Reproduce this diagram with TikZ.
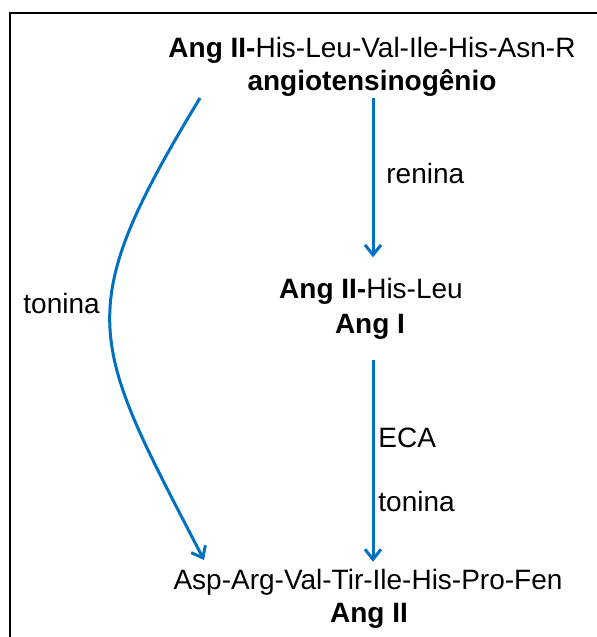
\documentclass[tikz,border=0pt]{standalone}
\usepackage{fontspec}
\setmainfont{Liberation Sans}
\usetikzlibrary{arrows.meta}
\definecolor{arrowblue}{HTML}{0070C0}
\begin{document}
\begin{tikzpicture}[x=1pt,y=1pt,
  txt/.style={inner sep=0pt, anchor=base, font=\fontsize{14}{16}\selectfont},
  lbl/.style={inner sep=0pt, anchor=base west, font=\fontsize{14}{16}\selectfont},
  flow/.style={draw=arrowblue, line width=1.5pt, -{Straight Barb[length=5pt,width=8pt,line width=1.5pt]}}]
\useasboundingbox (0,0) rectangle (298.5,-318.5);
% frame (left and top edges)
\draw[line width=1pt] (5,-318.5) -- (5,-6.5) -- (298.5,-6.5);
% nodes
\node[txt] (n1a) at (186,-28.5) {\textbf{Ang II-}His-Leu-Val-Ile-His-Asn-R};
\node[txt] (n1b) at (186,-45) {\textbf{angiotensinogênio}};
\node[txt] (n2a) at (185.5,-149) {\textbf{Ang II-}His-Leu};
\node[txt] (n2b) at (185,-166.5) {\textbf{Ang I}};
\node[txt] (n3a) at (184,-294.5) {Asp-Arg-Val-Tir-Ile-His-Pro-Fen};
\node[txt] (n3b) at (184.5,-311) {\textbf{Ang II}};
% labels
\node[lbl] (renina) at (193,-91.5) {renina};
\node[lbl] (eca) at (189,-223.5) {ECA};
\node[lbl] (ton1) at (189,-255.5) {tonina};
\node[lbl] (ton2) at (11.5,-156.5) {tonina};
% arrows
\draw[flow, shorten <=1pt, shorten >=10pt] ([xshift=0.5pt]n1b.south) -- ([xshift=0.5pt]n1b.south |- n2a.north);
\draw[flow, shorten <=10.5pt, shorten >=3.3pt] ([xshift=1.5pt]n2b.south) -- ([xshift=1.5pt]n2b.south |- n3a.north);
\coordinate (cs) at (100,-49);
\coordinate (ce) at (102,-280);
\draw[flow] (cs) .. controls (34.5,-157) and (45,-170) .. (ce);
\end{tikzpicture}
\end{document}
